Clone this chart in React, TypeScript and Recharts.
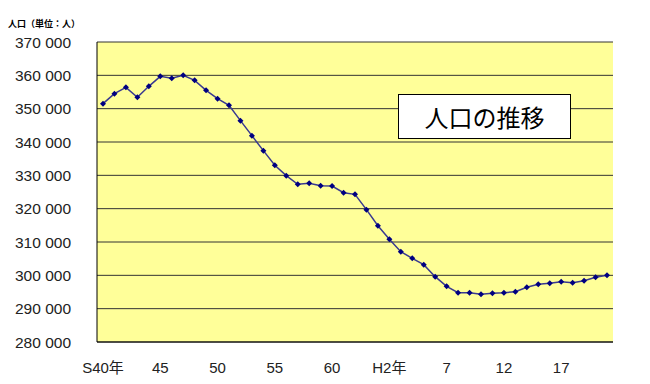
import { CartesianGrid, Line, LineChart, XAxis, YAxis } from "recharts";

// 年次ラベル (S40年 = 1965 ～ H21 = 2009)
const years = [
  "S40年", "41", "42", "43", "44", "45", "46", "47", "48", "49",
  "50", "51", "52", "53", "54", "55", "56", "57", "58", "59",
  "60", "61", "62", "63", "H元", "H2年", "3", "4", "5", "6",
  "7", "8", "9", "10", "11", "12", "13", "14", "15", "16",
  "17", "18", "19", "20", "21",
];

const population = [
  351500, 354500, 356400, 353400, 356700, 359700, 359100, 360000, 358500, 355500,
  353000, 351000, 346400, 341900, 337400, 333000, 329900, 327300, 327600, 326900,
  326800, 324800, 324300, 319700, 314900, 310800, 307100, 305100, 303200, 299600,
  296700, 294800, 294800, 294300, 294600, 294800, 295100, 296400, 297300, 297600,
  298100, 297800, 298400, 299400, 300000,
];

const yTicks = [280000, 290000, 300000, 310000, 320000, 330000, 340000, 350000, 360000, 370000];

const data = years.map((label, i) => ({ label, value: population[i] }));

const font = "'Liberation Sans', 'Noto Sans CJK JP', sans-serif";

const fmt = (v: number) => String(v).replace(/\B(?=(\d{3})+(?!\d))/g, " ");

function Diamond(props: any) {
  const { cx, cy, index } = props;
  if (cx == null || cy == null) return null;
  return <polygon key={index} points={`${cx},${cy - 3} ${cx + 3},${cy} ${cx},${cy + 3} ${cx - 3},${cy}`} fill="#000080" />;
}

export default function App() {
  return (
    <div style={{ position: "absolute", left: 0, top: 0, width: 650, height: 384, background: "#fff", fontFamily: font }}>
      <LineChart width={650} height={384} data={data} margin={{ top: 42, right: 37, bottom: 0, left: 0 }}>
        <CartesianGrid vertical={false} stroke="#333" fill="#FFFF99" fillOpacity={1} />
        <XAxis
          dataKey="label"
          interval={4}
          tickSize={0}
          tickMargin={20}
          tickLine={false}
          axisLine={{ stroke: "#000" }}
          height={42}
          padding={{ left: 6, right: 6 }}
          tick={{ fill: "#222", fontSize: 15, fontFamily: font }}
        />
        <YAxis
          domain={[280000, 370000]}
          ticks={yTicks}
          interval={0}
          width={97}
          tickSize={0}
          tickMargin={26}
          tickLine={false}
          axisLine={{ stroke: "#000" }}
          tickFormatter={fmt}
          tick={{ fill: "#222", fontSize: 15.5, fontFamily: font }}
        />
        <YAxis
          yAxisId="r"
          orientation="right"
          domain={[280000, 370000]}
          width={0}
          tick={false}
          tickLine={false}
          axisLine={{ stroke: "#999" }}
        />
        <Line
          type="linear"
          dataKey="value"
          stroke="#3a3a90"
          strokeWidth={1.5}
          dot={Diamond}
          activeDot={false}
          isAnimationActive={false}
        />
      </LineChart>
      <div style={{ position: "absolute", left: 8, top: 17, fontSize: 9, fontWeight: "bold", fontFamily: "'Noto Sans CJK JP', sans-serif", color: "#000" }}>
        人口（単位：人）
      </div>
      <div
        style={{
          position: "absolute",
          left: 398,
          top: 94,
          width: 171,
          height: 43,
          background: "#fff",
          border: "1px solid #000",
          display: "flex",
          alignItems: "center",
          justifyContent: "center",
          fontSize: 24,
          fontWeight: 400,
          fontFamily: "'Noto Sans CJK JP', sans-serif",
          color: "#000",
        }}
      >
        人口の推移
      </div>
    </div>
  );
}
